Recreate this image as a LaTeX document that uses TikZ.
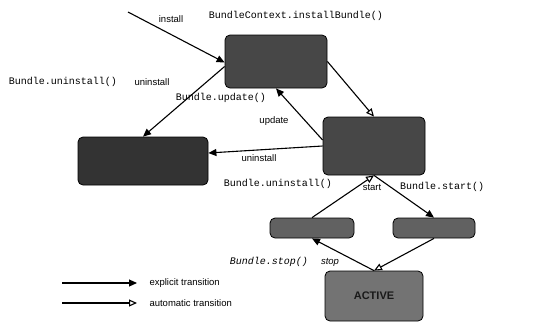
\documentclass[tikz,border=0pt]{standalone}
\usepackage{fontspec}
\setmainfont{Liberation Sans}
\setmonofont{Liberation Mono}
\usetikzlibrary{arrows.meta,calc}

\tikzset{
  state/.style={draw=black, line width=0.8pt, rounded corners=5pt, fill=black!72, inner sep=0pt},
  explicit/.style={-{Triangle[length=8pt,width=7pt]}, line width=1.1pt},
  autotrans/.style={-{Triangle[open,length=8pt,width=7pt]}, line width=1.1pt},
  lbl/.style={font=\fontsize{9.5}{10}\selectfont},
  api/.style={font=\ttfamily\fontsize{10}{11}\selectfont},
}

\begin{document}
\begin{tikzpicture}[x=1pt,y=-1pt]
          \useasboundingbox (0,0) rectangle (540,322);

          \node[state, minimum width=102pt, minimum height=53pt] (installed) at (276,61.5) {};
          \node[state, fill=black!80, minimum width=130pt, minimum height=48pt] (uninstalled) at (143,161) {};
          \node[state, minimum width=102pt, minimum height=58pt] (resolved) at (374,146) {};
          \node[state, fill=black!62, minimum width=84pt, minimum height=20pt] (stopping) at (312,228) {};
          \node[state, fill=black!62, minimum width=82pt, minimum height=20pt] (starting) at (434,228) {};
          \node[state, fill=black!55, minimum width=98pt, minimum height=50pt,
                font=\bfseries\fontsize{11}{12}\selectfont, text=black!90] (active) at (374,296) {ACTIVE};

          \coordinate (origin) at (128,12);
          \draw [explicit] (origin) -- ([yshift=-1pt]installed.west);
          \draw [explicit] ([yshift=-5pt]installed.west) -- (uninstalled.north);
          \draw [explicit] ($(resolved.west)+(0,-6)$) -- (installed.south);
          \draw [explicit] (resolved.west) -- ([yshift=8pt]uninstalled.east);
          \draw [autotrans] (installed.east) -- (resolved.north);
          \draw [autotrans] (stopping.north) -- (resolved.south);
          \draw [explicit] (resolved.south) -- (starting.north);
          \draw [explicit] (active.north) -- (stopping.south);
          \draw [autotrans] (starting.south) -- (active.north);

          \node[lbl] (linstall) at (171,19) {install};
          \node[api] (cinstall) at (296,16) {BundleContext.installBundle()};
          \node[api] (cuninstalla) at (63,82) {Bundle.uninstall()};
          \node[lbl] (luninstalla) at (152,82) {uninstall};
          \node[api] (cupdate) at (221,98) {Bundle.update()};
          \node[lbl] (lupdate) at (274,121) {update};
          \node[lbl] (luninstallb) at (259,158) {uninstall};
          \node[api] (cuninstallb) at (278,184) {Bundle.uninstall()};
          \node[lbl] (lstart) at (372,187) {start};
          \node[api] (cstart) at (442,187) {Bundle.start()};
          \node[api, font=\ttfamily\itshape\fontsize{10}{11}\selectfont] (cstop) at (269,262) {Bundle.stop()};
          \node[lbl, font=\itshape\fontsize{9.5}{10}\selectfont] (lstop) at (330,262) {stop};

          \coordinate (ea) at (62,283);
          \coordinate (eb) at (137,283);
          \coordinate (aa) at (62,303);
          \coordinate (ab) at (137,303);
          \draw [explicit] (ea) -- (eb);
          \draw [autotrans] (aa) -- (ab);
          \node[lbl, anchor=west] (lexplicit) at (146,283) {explicit transition};
          \node[lbl, anchor=west] (lautomatic) at (146,303) {automatic transition};
        \end{tikzpicture}
\end{document}
